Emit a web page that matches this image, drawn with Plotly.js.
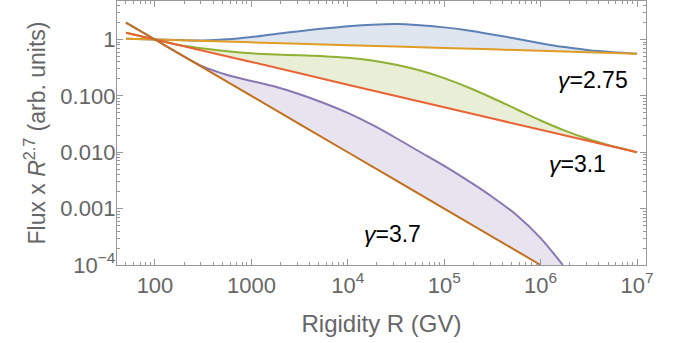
<!DOCTYPE html>
<html>
<head>
<meta charset="utf-8">
<script src="https://cdn.plot.ly/plotly-3.0.1.min.js"></script>
<style>html,body{margin:0;padding:0;background:#fff;}#chart{width:678px;height:343px;}</style>
</head>
<body>
<div id="chart"></div>
<script>
// ---- data ----
const rigidity275 = [50, 100, 1e3, 1e4, 1e5, 1e6, 1e7];
const flux275 = [1.035, 1.0, 0.89, 0.79, 0.71, 0.63, 0.56];

const rigidity31 = [50, 100, 1e3, 1e4, 1e5, 1e6, 1e7];
const flux31 = [1.32, 1.0, 0.40, 0.158, 0.063, 0.025, 0.010];

const rigidity37 = [50, 100, 1e3, 1e4, 1e5, 1e6];
const flux37 = [2.0, 1.0, 0.1, 0.01, 0.001, 1e-4];

const rigidityBlue = [50, 100, 178, 316, 562, 1000, 1778, 3162, 5623, 1e4, 1.78e4, 3.16e4, 5.62e4, 1e5, 1.78e5, 3.16e5, 5.62e5, 1e6, 1.78e6, 3.16e6, 5.62e6, 1e7];
const fluxBlue = [1.035, 1.0, 0.977, 0.964, 1.009, 1.109, 1.253, 1.406, 1.567, 1.710, 1.828, 1.884, 1.786, 1.641, 1.445, 1.230, 1.035, 0.861, 0.733, 0.646, 0.596, 0.560];

const rigidityGreen = [50, 100, 178, 316, 562, 1000, 1778, 3162, 5623, 1e4, 1.78e4, 3.16e4, 5.62e4, 1e5, 1.78e5, 3.16e5, 5.62e5, 1e6, 1.78e6, 3.16e6, 5.62e6, 1e7];
const fluxGreen = [1.32, 1.0, 0.80, 0.692, 0.621, 0.571, 0.543, 0.525, 0.507, 0.476, 0.425, 0.357, 0.282, 0.2065, 0.141, 0.0918, 0.0579, 0.0366, 0.0242, 0.0170, 0.0128, 0.010];

const rigidityPurple = [50, 100, 178, 316, 562, 1000, 1778, 3162, 5623, 1e4, 1.78e4, 3.16e4, 5.62e4, 1e5, 1.78e5, 3.16e5, 5.62e5, 1e6, 1.7e6];
const fluxPurple = [2.0, 1.0, 0.562, 0.33, 0.235, 0.184, 0.145, 0.107, 0.0748, 0.0498, 0.0308, 0.0179, 0.0101, 0.00571, 0.0031, 0.00161, 7.7e-4, 3.0e-4, 1.0e-4];

const xTickVals = [100, 1000, 1e4, 1e5, 1e6, 1e7];
const xTickText = ['100', '1000', '10<sup>4</sup>', '10<sup>5</sup>', '10<sup>6</sup>', '10<sup>7</sup>'];
const yTickVals = [1e-4, 1e-3, 1e-2, 0.1, 1];
const yTickText = ['10<sup>\u22124</sup>', '0.001', '0.010', '0.100', '1'];
const minorMultipliers = [2, 3, 4, 5, 6, 7, 8, 9];
const xDecades = [10, 100, 1e3, 1e4, 1e5, 1e6, 1e7];
const yDecades = [1e-4, 1e-3, 1e-2, 0.1, 1];

const labels = ['<i>\u03b3</i>=2.75', '<i>\u03b3</i>=3.1', '<i>\u03b3</i>=3.7'];

// ---- styling ----
const C = {
  blue: '#5E81B5', orange: '#E19C24', green: '#8FB032',
  red: '#EB6235', purple: '#8778B3', brown: '#C56E1A'
};
const fillC = {
  blue: 'rgba(94,129,181,0.2)', green: 'rgba(143,176,50,0.2)', purple: 'rgba(135,120,179,0.2)'
};
const xMinor = [];
xDecades.forEach(d => minorMultipliers.forEach(m => xMinor.push(d * m)));
const yMinor = [];
yDecades.forEach(d => minorMultipliers.forEach(m => yMinor.push(d * m)));

const SPLINE = {shape: 'spline', smoothing: 0.8};
function fillPair(xa, ya, xb, yb, col) {
  return [
    {x: xa, y: ya, type: 'scatter', mode: 'lines', line: Object.assign({width: 0, color: 'rgba(0,0,0,0)'}, SPLINE), hoverinfo: 'skip', showlegend: false},
    {x: xb, y: yb, type: 'scatter', mode: 'lines', line: Object.assign({width: 0, color: 'rgba(0,0,0,0)'}, SPLINE), fill: 'tonexty', fillcolor: col, hoverinfo: 'skip', showlegend: false}
  ];
}
function line(x, y, col) {
  return {x: x, y: y, type: 'scatter', mode: 'lines', line: Object.assign({width: 2, color: col}, SPLINE), showlegend: false};
}

const traces = [].concat(
  fillPair(rigidity275, flux275, rigidityBlue, fluxBlue, fillC.blue),
  fillPair(rigidity31, flux31, rigidityGreen, fluxGreen, fillC.green),
  fillPair(rigidity37, flux37, rigidityPurple, fluxPurple, fillC.purple),
  [
    line(rigidityBlue, fluxBlue, C.blue),
    line(rigidity275, flux275, C.orange),
    line(rigidityGreen, fluxGreen, C.green),
    line(rigidity31, flux31, C.red),
    line(rigidityPurple, fluxPurple, C.purple),
    line(rigidity37, flux37, C.brown)
  ]
);

const gray = '#999999';
const textGray = '#666666';
const FAM = 'Liberation Sans, Arial, sans-serif';
const font = {family: FAM, size: 22, color: textGray};
const xTitleFont = {family: FAM, size: 24, color: textGray};
const yTitleFont = {family: FAM, size: 23, color: textGray};
const annFont = {family: FAM, size: 23, color: '#000'};

const layout = {
  width: 678, height: 343,
  margin: {l: 117, r: 32, t: 1, b: 78},
  paper_bgcolor: '#fff', plot_bgcolor: '#fff',
  font: font,
  showlegend: false,
  xaxis: {
    type: 'log', range: [1.606, 7.093],
    tickmode: 'array', tickvals: xTickVals, ticktext: xTickText,
    ticks: 'inside', ticklen: 6, tickwidth: 1, tickcolor: gray,
    showline: true, linecolor: gray, linewidth: 1.2, mirror: 'ticks',
    showgrid: false, zeroline: false,
    tickfont: font,
    minor: {tickmode: 'array', tickvals: xMinor, ticks: 'inside', ticklen: 3, tickcolor: gray, showgrid: false},
    title: {text: 'Rigidity R (GV)', font: xTitleFont, standoff: 18}
  },
  yaxis: {
    type: 'log', range: [-4, 0.683],
    tickmode: 'array', tickvals: yTickVals, ticktext: yTickText,
    ticks: 'inside', ticklen: 6, tickwidth: 1, tickcolor: gray,
    showline: true, linecolor: gray, linewidth: 1.2, mirror: 'ticks',
    showgrid: false, zeroline: false,
    tickfont: font,
    ticklabelstandoff: -4,
    minor: {tickmode: 'array', tickvals: yMinor, ticks: 'inside', ticklen: 3, tickcolor: gray, showgrid: false},
    title: {text: 'Flux x <i>R</i><sup>2.7</sup> (arb. units)', font: yTitleFont, standoff: 8}
  },
  annotations: [
    {x: Math.log10(3.5e6), y: Math.log10(0.19), xref: 'x', yref: 'y', text: labels[0], showarrow: false, font: annFont},
    {x: Math.log10(2.44e6), y: Math.log10(0.0062), xref: 'x', yref: 'y', text: labels[1], showarrow: false, font: annFont},
    {x: Math.log10(2.94e4), y: Math.log10(3.6e-4), xref: 'x', yref: 'y', text: labels[2], showarrow: false, font: annFont}
  ]
};

Plotly.newPlot('chart', traces, layout, {staticPlot: true, displayModeBar: false});
</script>
</body>
</html>
